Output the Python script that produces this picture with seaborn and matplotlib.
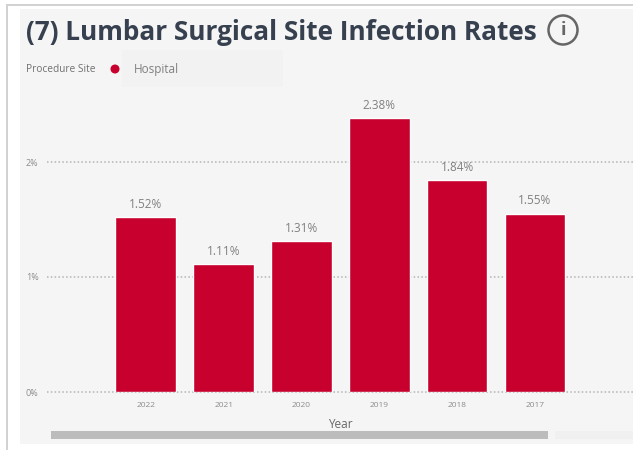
#!/usr/bin/env python3
"""Lumbar surgical site infection rates, bar chart by year."""

import matplotlib
matplotlib.use('Agg')
import matplotlib.pyplot as plt
from matplotlib.patches import Circle, Rectangle
import pandas as pd
import seaborn as sns

# Data
years = ['2022', '2021', '2020', '2019', '2018', '2017']
rates = [1.52, 1.11, 1.31, 2.38, 1.84, 1.55]
y_ticks = [0, 1, 2]
y_tick_labels = ['0%', '1%', '2%']

W, H = 633, 450
RED = '#c8002d'
PANEL = '#f5f5f5'
TEXT_GREY = '#808080'


def px_rect(x0, y0, x1, y1):
    """Figure-fraction rectangle from pixel coordinates (y down)."""
    return (x0 / W, 1 - y1 / H, (x1 - x0) / W, (y1 - y0) / H)


def add_box(fig, x0, y0, x1, y1, color, zorder=0):
    left, bottom, width, height = px_rect(x0, y0, x1, y1)
    fig.add_artist(Rectangle((left, bottom), width, height, transform=fig.transFigure,
                             facecolor=color, edgecolor='none', zorder=zorder))


sns.set_theme(style='white')
plt.rcParams['font.family'] = ['Open Sans', 'DejaVu Sans']

fig = plt.figure(figsize=(W / 100, H / 100), dpi=100, facecolor='white')

# Panel and outer border
add_box(fig, 20, 9, W, 444, PANEL)
add_box(fig, 6, 4, 8, 450, '#d2d2d2')
add_box(fig, 6, 4, W, 6, '#d2d2d2')
add_box(fig, 122, 50, 283, 87, '#f2f2f2', zorder=0.5)

ax = fig.add_axes(px_rect(47, 100, W, 392))
ax.patch.set_alpha(0)

df = pd.DataFrame({'Year': years, 'Rate': rates})
sns.barplot(data=df, x='Year', y='Rate', order=years, color=RED, saturation=1,
            width=0.78, ax=ax, zorder=3)

ax.set_xlim(-1.27, 6.26)
ax.set_ylim(0, 292 / 115)
ax.set_yticks(y_ticks)
ax.set_yticklabels(y_tick_labels)
ax.tick_params(axis='both', length=0)
ax.tick_params(axis='x', labelsize=6, labelcolor='#8c8c8c', pad=7)
ax.tick_params(axis='y', labelsize=6.5, labelcolor='#8c8c8c', pad=6)
ax.set_xlabel('Year', fontsize=8.5, color='#666666', labelpad=7)
ax.set_ylabel('')
ax.grid(True, axis='y', color='#b4b4b4', linestyle=(0, (1, 1.5)), linewidth=1.1, zorder=0)
ax.grid(False, axis='x')
for line in ax.get_ygridlines():
    line.set_clip_on(False)
sns.despine(ax=ax, left=True, bottom=True, right=True, top=True)

# Value labels above the bars
for i, rate in enumerate(rates):
    ax.annotate(f'{rate:.2f}%', (i, rate), xytext=(0, 4.5), textcoords='offset points',
                ha='center', va='bottom', fontsize=8.5, color=TEXT_GREY, zorder=4)

# Title, legend
fig.text(26 / W, 1 - 32 / H, '(7) Lumbar Surgical Site Infection Rates', fontsize=18.8,
         fontweight='bold', color='#36404f', va='center', ha='left')
fig.text(26 / W, 1 - 69 / H, 'Procedure Site', fontsize=7.3, color='#707070',
         va='center', ha='left', zorder=2)
fig.text(134 / W, 1 - 69 / H, 'Hospital', fontsize=8.5, color='#808080',
         va='center', ha='left', zorder=2)

# Pixel-space overlay for the round glyphs
overlay = fig.add_axes([0, 0, 1, 1], zorder=5)
overlay.set_xlim(0, W)
overlay.set_ylim(H, 0)
overlay.axis('off')
overlay.patch.set_alpha(0)
overlay.add_patch(Circle((115, 69), 4.5, facecolor=RED, edgecolor='none'))
overlay.add_patch(Circle((563, 30), 14.5, facecolor='none', edgecolor='#666666', linewidth=1.8))
overlay.text(563, 30, 'i', fontsize=13, fontweight='bold', color='#666666', ha='center', va='center')

# Scrollbar
add_box(fig, 51, 431, 548, 439, '#bcbcbc', zorder=1)
add_box(fig, 555, 431, W, 439, '#f0f0f0', zorder=1)

fig.savefig('out.png', dpi=100)
